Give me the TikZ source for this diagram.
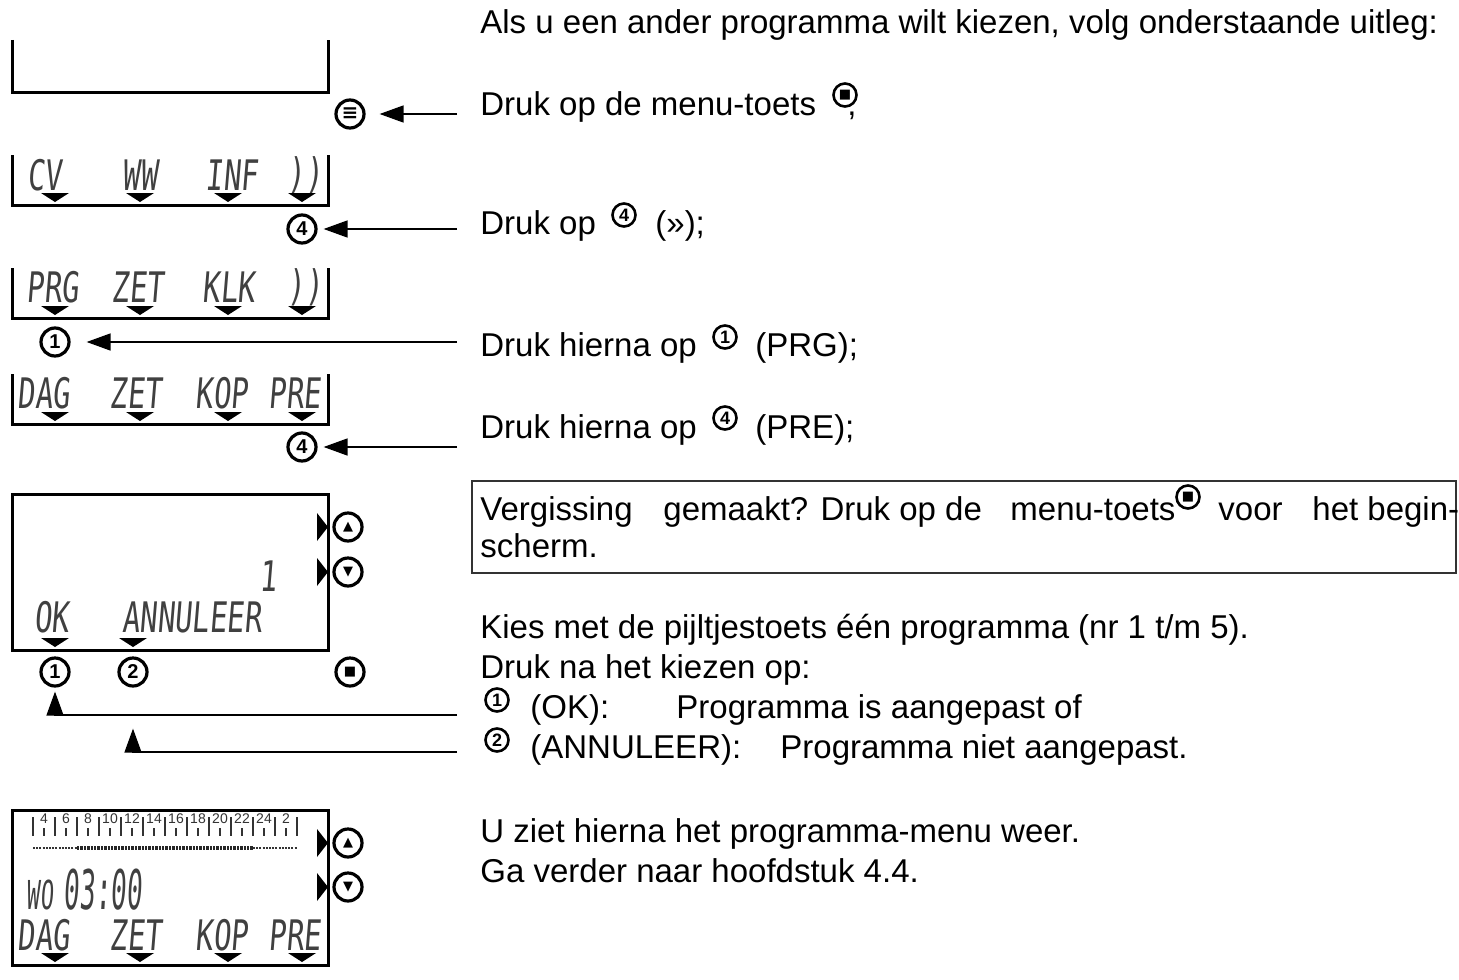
\documentclass[tikz,border=0pt]{standalone}
\usepackage{fontspec}
\setmainfont{Liberation Sans}
\newfontfamily\lcdfont[FakeSlant=0.12]{DejaVu Sans Mono}
\newfontfamily\symfont{DejaVu Sans}
\usetikzlibrary{arrows.meta, positioning}
\tikzset{
  rand/.style={draw=black, line width=1.5pt},
  knop/.style={circle, draw=black, line width=1.6pt, fill=white,
               inner sep=0pt, minimum size=14pt,
               font=\bfseries\fontsize{10}{10}\selectfont},
  knopK/.style={circle, draw=black, line width=1.3pt, fill=white,
                inner sep=0pt, minimum size=11.5pt,
                font=\bfseries\fontsize{9}{9}\selectfont},
  tekst/.style={anchor=base west, inner sep=0pt,
                font=\fontsize{16.5}{20}\selectfont},
  lcd/.style={inner sep=0pt, text=black!75,
              font=\lcdfont\fontsize{14.5}{15}\selectfont, yscale=1.45},
  uur/.style={inner sep=0pt, text=black!80, font=\fontsize{7}{7}\selectfont},
  pijl/.style={draw=black, line width=0.8pt,
               -{Triangle[length=12pt,width=8.5pt]}},
  wijzer/.pic={\fill (-14,-5) -- (14,-5) -- (0,4) -- cycle;},
  zijwijzer/.pic={\fill (-11,-14) -- (0,0) -- (-11,14) -- cycle;},
}
\newcommand{\sym}[1]{{\symfont\fontsize{6.5}{6.5}\selectfont #1}}

\begin{document}
\begin{tikzpicture}[x=0.5pt, y=-0.5pt]
    \useasboundingbox (0,0) rectangle (1459,979);
    %% display 1: leeg scherm
    \draw[rand] (12,40) |- (328,93) -- (328,40);
    \node[knop] (menu) at (350,114) {\symfont\fontsize{10}{10}\selectfont ≡};
    \coordinate (a1) at (457,114);
    \draw[pijl, shorten >=7pt] (a1) -- (menu);
    %% display 2: hoofdmenu
    \draw[rand] (12,155) |- (328,205) -- (328,155);
    \node[lcd] (cv)  at (45,175)  {CV};
    \node[lcd] (ww)  at (140,175) {WW};
    \node[lcd] (inf) at (232,175) {INF};
    \node[lcd] (vd2) at (305,175) {))};
    \foreach \x in {55,140,228,302} \pic at (\x,198) {wijzer};
    \node[knop] (k2) at (302,229) {4};
    \coordinate (a2) at (457,229);
    \draw[pijl, shorten >=3pt] (a2) -- (k2);
    %% display 3
    \draw[rand] (12,268) |- (328,318) -- (328,268);
    \node[lcd] (prg) at (53,287)  {PRG};
    \node[lcd] (zt3) at (138,287) {ZET};
    \node[lcd] (klk) at (229,287) {KLK};
    \node[lcd] (vd3) at (305,287) {))};
    \foreach \x in {55,140,228,302} \pic at (\x,311) {wijzer};
    \node[knop] (k3) at (55,342) {1};
    \coordinate (a3) at (457,342);
    \draw[pijl, shorten >=8pt] (a3) -- (k3);
    %% display 4
    \draw[rand] (12,374) |- (328,424) -- (328,374);
    \node[lcd] (dag4) at (44,393)  {DAG};
    \node[lcd] (zet4) at (136,393) {ZET};
    \node[lcd] (kop4) at (222,393) {KOP};
    \node[lcd] (pre4) at (295,393) {PRE};
    \foreach \x in {55,140,228,302} \pic at (\x,417) {wijzer};
    \node[knop] (k4) at (302,447) {4};
    \coordinate (a4) at (457,447);
    \draw[pijl, shorten >=3pt] (a4) -- (k4);
    %% display 5: programma kiezen
    \draw[rand] (12,494) rectangle (328,650);
    \pic at (328,527) {zijwijzer};
    \pic at (328,572) {zijwijzer};
    \node[knop] (op5)   at (348,527) {\sym{▲}};
    \node[knop] (neer5) at (348,572) {\sym{▼}};
    \node[lcd] (nr5) at (268,576) {1};
    \node[lcd] (ok5) at (52,617)  {OK};
    \node[lcd] (an5) at (192,617) {ANNULEER};
    \foreach \x in {55,133} \pic at (\x,643) {wijzer};
    \node[knop] (k5a)   at (55,672)  {1};
    \node[knop] (k5b)   at (133,672) {2};
    \node[knop] (stop5) at (350,672) {\sym{■}};
    \coordinate (a5) at (457,715);
    \coordinate (a6) at (457,752);
    \draw[pijl, shorten >=2pt] (a5) -| (k5a);
    \draw[pijl, shorten >=20.5pt] (a6) -| (k5b);
    %% display 6: programma-menu
    \draw[rand] (12,810) rectangle (328,965);
    \foreach \i in {0,...,12}
      \draw[line width=1.1pt, black!80] (33+22*\i,817) -- (33+22*\i,836);
    \foreach \u [count=\i from 0] in {4,6,8,10,12,14,16,18,20,22,24,2} {
      \draw[line width=1.1pt, black!80] (44+22*\i,828) -- (44+22*\i,836);
      \node[uur] (u\i) at (44+22*\i,819) {\u};
    }
    \draw[black!80, line width=0.9pt, dash pattern=on 1pt off 0.6pt]
      (33,848) -- (77,848) (253,848) -- (297,848);
    \draw[black!85, line width=2.4pt, dash pattern=on 1.2pt off 0.5pt]
      (77,848) -- (253,848);
    \pic at (328,843) {zijwijzer};
    \pic at (328,887) {zijwijzer};
    \node[knop] (op6)   at (348,843) {\sym{▲}};
    \node[knop] (neer6) at (348,887) {\sym{▼}};
    \node[lcd, font=\lcdfont\fontsize{11}{11}\selectfont, yscale=1.25] (wo6) at (40,895) {WO};
    \node[lcd, font=\lcdfont\fontsize{13}{13}\selectfont, yscale=1.45] (tijd6) at (103,890) {03:00};
    \node[lcd] (dag6) at (44,935)  {DAG};
    \node[lcd] (zet6) at (136,935) {ZET};
    \node[lcd] (kop6) at (222,935) {KOP};
    \node[lcd] (pre6) at (295,935) {PRE};
    \foreach \x in {55,140,228,302} \pic at (\x,958) {wijzer};
    %% uitleg rechts
    \node[tekst] (kop) at (480,34) {Als u een ander programma wilt kiezen, volg onderstaande uitleg:};
    \node[tekst] (stap1)  at (480,115) {Druk op de menu-toets};
    \node[knopK] (stap1k) at (845,95) {\sym{■}};
    \node[tekst] (stap1c) at (847,115) {,};
    \node[tekst] (stap2)  at (480,234) {Druk op};
    \node[knopK] (stap2k) at (624,215) {4};
    \node[tekst] (stap2b) at (655,234) {(»);};
    \node[tekst] (stap3)  at (480,356) {Druk hierna op};
    \node[knopK] (stap3k) at (725,337) {1};
    \node[tekst] (stap3b) at (755,356) {(PRG);};
    \node[tekst] (stap4)  at (480,438) {Druk hierna op};
    \node[knopK] (stap4k) at (725,418) {4};
    \node[tekst] (stap4b) at (755,438) {(PRE);};
    %% kader
    \draw[black!80, line width=0.8pt] (472,481) rectangle (1456,573);
    \node[tekst] (fout1) at (480,520)  {Vergissing};
    \node[tekst] (fout2) at (663,520)  {gemaakt? Druk op de};
    \node[tekst] (fout3) at (1010,520) {menu-toets};
    \node[knopK] (foutk) at (1188,497) {\sym{■}};
    \node[tekst] (fout4) at (1218,520) {voor};
    \node[tekst] (fout5) at (1312,520) {het begin-};
    \node[tekst] (fout6) at (480,557)  {scherm.};
    %% kiezen
    \node[tekst] (kies)  at (480,638) {Kies met de pijltjestoets één programma (nr 1 t/m 5).};
    \node[tekst] (na)    at (480,678) {Druk na het kiezen op:};
    \node[knopK] (okk)   at (497,700) {1};
    \node[tekst] (ok)    at (530,718) {(OK):};
    \node[tekst] (okt)   at (676,718) {Programma is aangepast of};
    \node[knopK] (ank)   at (497,740) {2};
    \node[tekst] (an)    at (530,758) {(ANNULEER):};
    \node[tekst] (ant)   at (780,758) {Programma niet aangepast.};
    \node[tekst] (terug) at (480,842) {U ziet hierna het programma-menu weer.};
    \node[tekst] (verder) at (480,882) {Ga verder naar hoofdstuk 4.4.};
  \end{tikzpicture}
\end{document}
